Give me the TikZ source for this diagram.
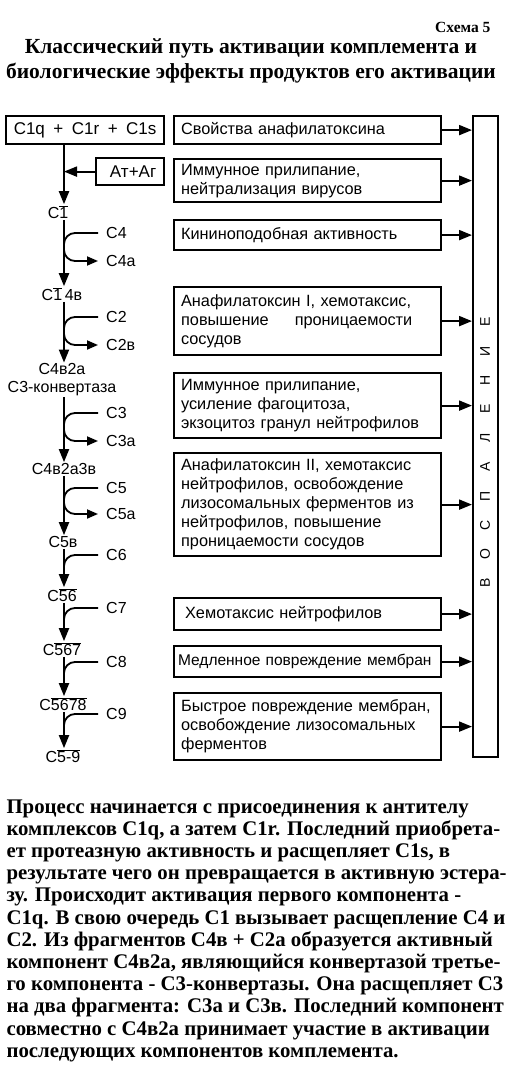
\documentclass[tikz,border=0pt]{standalone}
\usepackage{fontspec}
\setmainfont{Liberation Serif}
\setsansfont{Liberation Sans}
\usetikzlibrary{arrows.meta,positioning}
\newcommand{\barred}[1]{$\overline{\mbox{#1}}$}
\tikzset{
  effbox/.style={
    draw,
    line width=2.2pt,
    anchor=north west,
    minimum width=267pt,
    text width=253pt,
    inner xsep=7pt,
    align=left,
    font=\sffamily\fontsize{16.3}{19}\selectfont
  },
  stepnode/.style={inner sep=1pt, align=center, font=\sffamily\fontsize{16}{18}\selectfont},
  prodnode/.style={stepnode, anchor=west, inner xsep=8pt},
  flow/.style={line width=2pt, -{Triangle[length=13pt,width=10pt]}},
  feed/.style={line width=1.8pt, rounded corners=11pt},
  letter/.style={rotate=90, font=\sffamily\fontsize{14}{14}\selectfont}
}

\begin{document}
\begin{tikzpicture}[x=1pt,y=-1pt]
  \useasboundingbox (0,0) rectangle (511,1070);
  \node[anchor=east, font=\bfseries\fontsize{15.5}{18}\selectfont] (scheme) at (494,27) {Схема 5};
  \node[align=center, font=\bfseries\fontsize{21.5}{25}\selectfont] (title) at (251,61)
    {Классический путь активации комплемента и\\биологические эффекты продуктов его активации};

  \node[draw, line width=2.2pt, anchor=north west, minimum width=158pt, minimum height=28pt, stepnode, font=\sffamily\fontsize{17}{18}\selectfont] (c1qrs) at (5,115) {C1q\enspace+\enspace C1r\enspace+\enspace C1s};
  \node[draw, line width=2.2pt, anchor=north west, minimum width=68pt, minimum height=27pt, stepnode, font=\sffamily\fontsize{17}{18}\selectfont] (agab) at (95,157) {\hspace{6pt}Ат+Аг};
  \coordinate (spine) at (64,0);

  \node[stepnode] (c1) at (58,212) {C\barred{1}};
  \node[stepnode] (c14b) at (62,294) {C\barred{1}\,4в};
  \node[stepnode] (c42a) at (62,380) {С4в2а\\С3-конвертаза};
  \node[stepnode] (c42a3b) at (64,469) {С4в2а3в};
  \node[stepnode] (c5b) at (63,542) {С5в};
  \node[stepnode] (c56) at (62,595) {C\barred{56}};
  \node[stepnode] (c567) at (62,649) {C\barred{567}};
  \node[stepnode] (c5678) at (63,704) {C\barred{5678}};
  \node[stepnode] (c59) at (63,756) {C\barred{5-9}};

  \node[prodnode] (c4) at (98,233) {C4};
  \node[prodnode] (c4a) at (98,261) {C4а};
  \node[prodnode] (c2) at (98,317) {C2};
  \node[prodnode] (c2b) at (98,345) {C2в};
  \node[prodnode] (c3) at (98,413) {C3};
  \node[prodnode] (c3a) at (98,441) {C3а};
  \node[prodnode] (c5) at (98,488) {C5};
  \node[prodnode] (c5a) at (98,514) {C5а};
  \node[prodnode] (c6) at (98,555) {C6};
  \node[prodnode] (c7) at (98,608) {C7};
  \node[prodnode] (c8) at (98,662) {C8};
  \node[prodnode] (c9) at (98,714) {C9};

  \draw[flow] (c1qrs.south -| spine) -- (c1.north -| spine);
  \draw[flow] (agab.west) -- (agab.west -| spine);
  \draw[flow] (c1.south -| spine) -- (c14b.north -| spine);
  \draw[flow] (c14b.south -| spine) -- (c42a.north -| spine);
  \draw[flow] (c42a.south -| spine) -- (c42a3b.north -| spine);
  \draw[flow] (c42a3b.south -| spine) -- (c5b.north -| spine);
  \draw[flow] (c5b.south -| spine) -- (c56.north -| spine);
  \draw[flow] (c56.south -| spine) -- (c567.north -| spine);
  \draw[flow] (c567.south -| spine) -- (c5678.north -| spine);
  \draw[flow] (c5678.south -| spine) -- (c59.north -| spine);

  \foreach \src/\dst in {c4/c4a,c2/c2b,c3/c3a,c5/c5a}
    \draw[feed, -{Triangle[length=11pt,width=9pt]}] (\src.west) -- (\src.west -| spine) -- (\dst.west -| spine) -- (\dst.west);
  \foreach \src in {c6,c7,c8,c9}
    \draw[feed] (\src.west) -- (\src.west -| spine) -- ++(0,16);

  \node[effbox, minimum height=28pt] (e1) at (173,115) {Свойства анафилатоксина};
  \node[effbox, minimum height=43pt] (e2) at (173,158) {Иммунное прилипание,\\нейтрализация вирусов};
  \node[effbox, minimum height=30pt] (e3) at (173,219) {Кининоподобная активность};
  \node[effbox, minimum height=68pt] (e4) at (173,286) {Анафилатоксин I, хемотаксис,\\повышение\hspace{1.6em}проницаемости\\сосудов};
  \node[effbox, minimum height=65pt] (e5) at (173,372) {Иммунное прилипание,\\усиление фагоцитоза,\\экзоцитоз гранул нейтрофилов};
  \node[effbox, minimum height=103pt] (e6) at (173,452) {Анафилатоксин II, хемотаксис\\нейтрофилов, освобождение\\лизосомальных ферментов из\\нейтрофилов, повышение\\проницаемости сосудов};
  \node[effbox, minimum height=32pt] (e7) at (173,597) {\hspace{4pt}Хемотаксис нейтрофилов};
  \node[effbox, minimum height=31pt, inner xsep=2pt, text width=263pt, font=\sffamily\fontsize{15.5}{19}\selectfont] (e8) at (173,645) {\hspace{2pt}Медленное повреждение мембран};
  \node[effbox, minimum height=67pt] (e9) at (173,692) {Быстрое повреждение мембран,\\освобождение лизосомальных\\ферментов};

  \node[draw, line width=2.2pt, anchor=north west, minimum width=25pt, minimum height=641pt] (bar) at (472,115) {};
  \foreach \ch [count=\i] in {В,О,С,П,А,Л,Е,Н,И,Е}
    \node[letter] (l\i) at (485,612-29*\i) {\ch};
  \foreach \i in {1,...,9}
    \draw[flow] (e\i.east) -- (e\i.east -| bar.west);

  \node[anchor=north west, align=left, font=\bfseries\fontsize{20.8}{22.2}\selectfont] (body) at (3,796)
    {Процесс начинается с присоединения к антителу\\
     комплексов C1q, а затем C1r. Последний приобрета-\\
     ет протеазную активность и расщепляет C1s, в\\
     результате чего он превращается в активную эстера-\\
     зу. Происходит активация первого компонента -\\
     C1q. В свою очередь C1 вызывает расщепление C4 и\\
     C2. Из фрагментов С4в + С2а образуется активный\\
     компонент С4в2а, являющийся конвертазой третье-\\
     го компонента - С3-конвертазы. Она расщепляет С3\\
     на два фрагмента: С3а и С3в. Последний компонент\\
     совместно с С4в2а принимает участие в активации\\
     последующих компонентов комплемента.};
\end{tikzpicture}
\end{document}
